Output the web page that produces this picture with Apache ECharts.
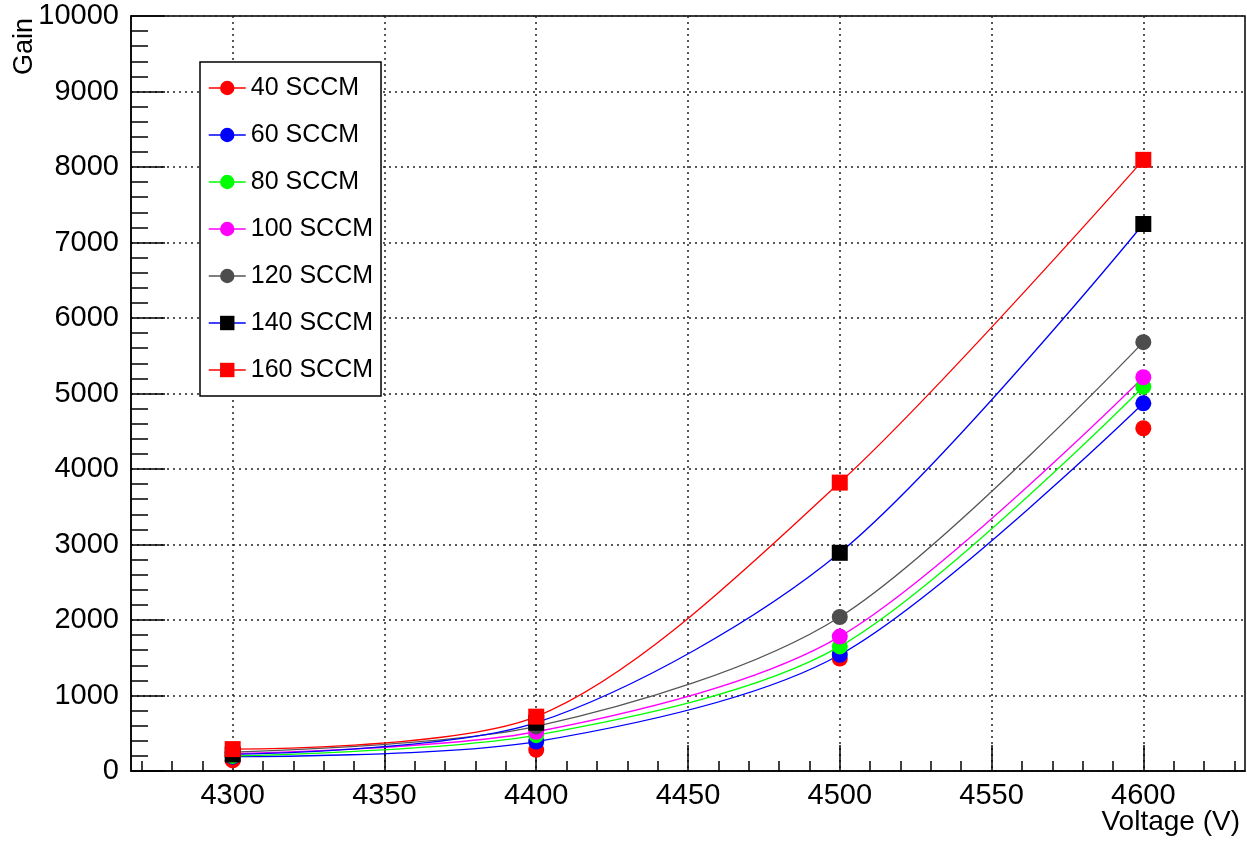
<!DOCTYPE html>
<html>
<head>
<meta charset="utf-8">
<title>Gain vs Voltage</title>
<script src="https://cdn.jsdelivr.net/npm/echarts@6/dist/echarts.min.js"></script>
<style>
  html, body { margin: 0; padding: 0; background: #fff; }
  #chart { width: 1247px; height: 842px; }
</style>
</head>
<body>
<div id="chart"></div>
<script>
// Data
const voltages = [4300, 4400, 4500, 4600];
const flowNames = ['40 SCCM', '60 SCCM', '80 SCCM', '100 SCCM', '120 SCCM', '140 SCCM', '160 SCCM'];
const gain40 = [140, 280, 1490, 4540];
const gain60 = [190, 390, 1540, 4870];
const gain80 = [200, 475, 1650, 5090];
const gain100 = [230, 520, 1780, 5215];
const gain120 = [250, 590, 2040, 5680];
const gain140 = [220, 640, 2890, 7245];
const gain160 = [290, 720, 3820, 8095];

// Axis ticks / labels
const xMajorTicks = [4300, 4350, 4400, 4450, 4500, 4550, 4600];
const xMinorTicks = [];
for (let v = 4270; v <= 4630; v += 10) xMinorTicks.push(v);

const FONT = '"Liberation Sans", Arial, Helvetica, sans-serif';

// marker / line look per series (ROOT style)
const styles = [
    { symbol: 'circle', marker: '#ff0000', line: '#ff0000', hideLine: true },
    { symbol: 'circle', marker: '#0000ff', line: '#0000ff' },
    { symbol: 'circle', marker: '#00ff00', line: '#00ff00' },
    { symbol: 'circle', marker: '#ff00ff', line: '#ff00ff' },
    { symbol: 'circle', marker: '#4d4d4d', line: '#555555' },
    { symbol: 'rect', marker: '#000000', line: '#0000ff' },
    { symbol: 'rect', marker: '#ff0000', line: '#ff0000' }
];
const gains = [gain40, gain60, gain80, gain100, gain120, gain140, gain160];

const chart = echarts.init(document.getElementById('chart'), null, { renderer: 'canvas' });

const series = gains.map((g, i) => {
    const s = styles[i];
    return {
        name: flowNames[i],
        type: 'line',
        xAxisIndex: 1,
        smooth: 0.3,
        symbol: s.symbol,
        symbolSize: 16,
        showAllSymbol: true,
        data: voltages.map((v, k) => [v, g[k]]),
        itemStyle: { color: s.marker },
        lineStyle: { color: s.line, width: 1.3, opacity: s.hideLine ? 0 : 1 },
        emphasis: { disabled: true },
        animation: false
    };
});

const plainNum = v => String(v);

const option = {
    backgroundColor: '#ffffff',
    animation: false,
    grid: {
        left: 131, top: 16, right: 2, bottom: 71,
        outerBoundsMode: 'none',
        containLabel: false,
        show: true, borderColor: '#000', borderWidth: 1.5, backgroundColor: 'transparent'
    },
    xAxis: [
        {
            // minor ticks only
            type: 'value', min: 4266.5, max: 4633.5, position: 'bottom',
            axisLine: { show: false },
            axisTick: { show: true, inside: true, length: 10, customValues: xMinorTicks,
                lineStyle: { color: '#000', width: 1.5 } },
            axisLabel: { show: false },
            splitLine: { show: false }
        },
        {
            type: 'value', min: 4266.5, max: 4633.5, position: 'bottom',
            axisLine: { show: true, lineStyle: { color: '#000', width: 1.5 } },
            axisTick: { show: true, inside: true, length: 26, customValues: xMajorTicks,
                lineStyle: { color: '#000', width: 1.5 } },
            axisLabel: { show: true, customValues: xMajorTicks, margin: 10, formatter: plainNum,
                color: '#000', fontSize: 29, fontFamily: FONT },
            splitLine: { show: true, lineStyle: { color: '#222', width: 1.5, type: [2, 4] } }
        }
    ],
    yAxis: {
        type: 'value', min: 0, max: 10000, interval: 1000,
        axisLine: { show: true, lineStyle: { color: '#000', width: 1.5 } },
        axisTick: { show: true, inside: true, length: 34, lineStyle: { color: '#000', width: 1.5 } },
        minorTick: { show: true, splitNumber: 5, length: 17, lineStyle: { color: '#000', width: 1.5 } },
        axisLabel: { color: '#000', fontSize: 29, fontFamily: FONT, margin: 12, formatter: plainNum },
        splitLine: { show: true, lineStyle: { color: '#222', width: 1.5, type: [2, 4] } }
    },
    legend: {
        orient: 'vertical',
        left: 200, top: 62,
        padding: [13, 8, 13, 8],
        itemGap: 21,
        itemWidth: 37,
        itemHeight: 18,
        backgroundColor: '#fff',
        borderColor: '#000',
        borderWidth: 1.5,
        borderRadius: 0,
        textStyle: { color: '#000', fontSize: 25, fontFamily: FONT, lineHeight: 26 },
        data: flowNames.map((n, i) => ({
            name: n,
            lineStyle: { color: styles[i].line, width: 1.5, opacity: 1 }
        }))
    },
    graphic: [
        {
            type: 'text', x: 11, y: 18, rotation: Math.PI / 2,
            style: { text: 'Gain', font: '27px ' + FONT, fill: '#000',
                textAlign: 'right', textVerticalAlign: 'top' }
        },
        {
            type: 'text', right: 7, top: 808,
            style: { text: 'Voltage (V)', font: '28px ' + FONT, fill: '#000' }
        }
    ],
    series: series
};

chart.setOption(option);
</script>
</body>
</html>
